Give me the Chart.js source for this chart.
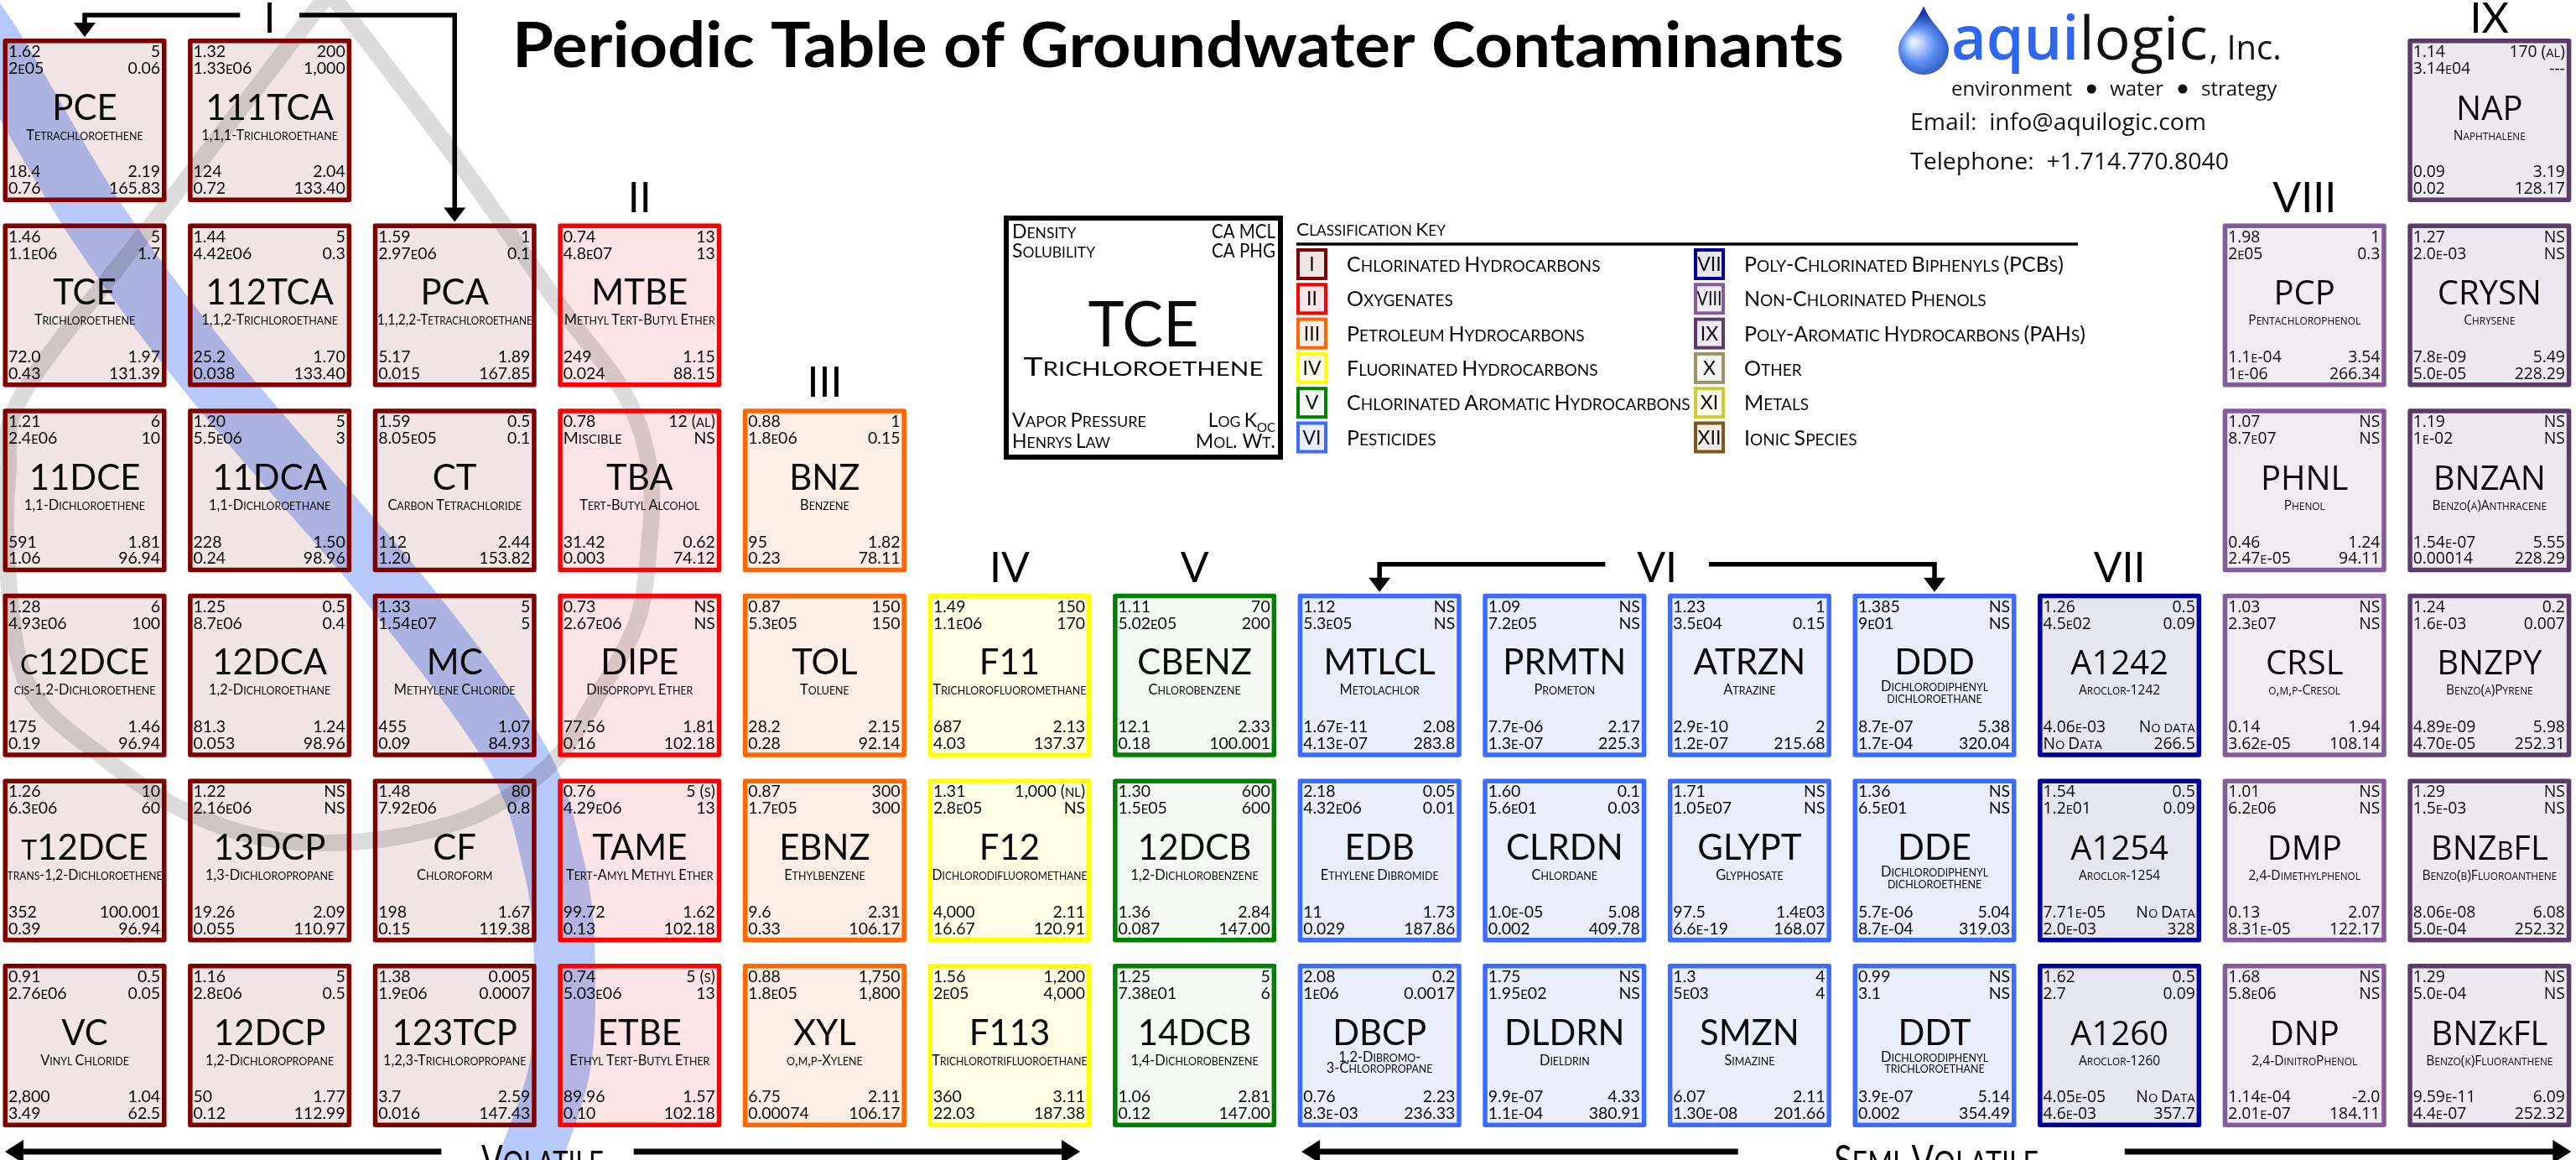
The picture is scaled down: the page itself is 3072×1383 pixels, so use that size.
<!DOCTYPE html>
<html>
<head>
<meta charset="utf-8">
<title>Periodic Table of Groundwater Contaminants</title>
<script src="https://cdn.jsdelivr.net/npm/chart.js@4.4.1/dist/chart.umd.min.js"></script>
<style>
  html, body { margin: 0; padding: 0; background: #fff; }
  #wrap { position: relative; width: 3072px; height: 1383px; }
</style>
</head>
<body>
<div id="wrap"><canvas id="chart"></canvas></div>
<script>
/* ============================================================
   Periodic table of groundwater contaminants
   cells are placed on a column/row grid through Chart.js scales
============================================================ */

// ---- Cell data (one entry per contaminant, column by column) ----
const symbols = ['PCE','TCE','11DCE','c12DCE','t12DCE','VC',
  '111TCA','112TCA','11DCA','12DCA','13DCP','12DCP',
  'PCA','CT','MC','CF','123TCP',
  'MTBE','TBA','DIPE','TAME','ETBE',
  'BNZ','TOL','EBNZ','XYL',
  'F11','F12','F113',
  'CBENZ','12DCB','14DCB',
  'MTLCL','EDB','DBCP','PRMTN','CLRDN','DLDRN','ATRZN','GLYPT','SMZN','DDD','DDE','DDT',
  'A1242','A1254','A1260',
  'PCP','PHNL','CRSL','DMP','DNP',
  'NAP','CRYSN','BNZAN','BNZPY','BNZbFL','BNZkFL'];

const names = ['Tetrachloroethene','Trichloroethene','1,1-Dichloroethene','cis-1,2-Dichloroethene','trans-1,2-Dichloroethene','Vinyl Chloride',
  '1,1,1-Trichloroethane','1,1,2-Trichloroethane','1,1-Dichloroethane','1,2-Dichloroethane','1,3-Dichloropropane','1,2-Dichloropropane',
  '1,1,2,2-Tetrachloroethane','Carbon Tetrachloride','Methylene Chloride','Chloroform','1,2,3-Trichloropropane',
  'Methyl Tert-Butyl Ether','Tert-Butyl Alcohol','Diisopropyl Ether','Tert-Amyl Methyl Ether','Ethyl Tert-Butyl Ether',
  'Benzene','Toluene','Ethylbenzene','o,m,p-Xylene',
  'Trichlorofluoromethane','Dichlorodifluoromethane','Trichlorotrifluoroethane',
  'Chlorobenzene','1,2-Dichlorobenzene','1,4-Dichlorobenzene',
  'Metolachlor','Ethylene Dibromide','1,2-Dibromo-|3-Chloropropane','Prometon','Chlordane','Dieldrin',
  'Atrazine','Glyphosate','Simazine','Dichlorodiphenyl|dichloroethane','Dichlorodiphenyl|dichloroethene','Dichlorodiphenyl|trichloroethane',
  'Aroclor-1242','Aroclor-1254','Aroclor-1260',
  'Pentachlorophenol','Phenol','o,m,p-Cresol','2,4-Dimethylphenol','2,4-DinitroPhenol',
  'Naphthalene','Chrysene','Benzo(a)Anthracene','Benzo(a)Pyrene','Benzo(b)Fluoroanthene','Benzo(k)Fluoranthene'];

const density = ['1.62','1.46','1.21','1.28','1.26','0.91','1.32','1.44','1.20','1.25','1.22','1.16',
  '1.59','1.59','1.33','1.48','1.38','0.74','0.78','0.73','0.76','0.74','0.88','0.87','0.87','0.88',
  '1.49','1.31','1.56','1.11','1.30','1.25','1.12','2.18','2.08','1.09','1.60','1.75','1.23','1.71','1.3',
  '1.385','1.36','0.99','1.26','1.54','1.62','1.98','1.07','1.03','1.01','1.68','1.14','1.27','1.19','1.24','1.29','1.29'];

const solubility = ['2e05','1.1e06','2.4e06','4.93e06','6.3e06','2.76e06','1.33e06','4.42e06','5.5e06','8.7e06','2.16e06','2.8e06',
  '2.97e06','8.05e05','1.54e07','7.92e06','1.9e06','4.8e07','Miscible','2.67e06','4.29e06','5.03e06','1.8e06','5.3e05','1.7e05','1.8e05',
  '1.1e06','2.8e05','2e05','5.02e05','1.5e05','7.38e01','5.3e05','4.32e06','1e06','7.2e05','5.6e01','1.95e02','3.5e04','1.05e07','5e03',
  '9e01','6.5e01','3.1','4.5e02','1.2e01','2.7','2e05','8.7e07','2.3e07','6.2e06','5.8e06','3.14e04','2.0e-03','1e-02','1.6e-03','1.5e-03','5.0e-04'];

const caMcl = ['5','5','6','6','10','0.5','200','5','5','0.5','NS','5','1','0.5','5','80','0.005',
  '13','12 (al)','NS','5 (s)','5 (s)','1','150','300','1,750','150','1,000 (nl)','1,200','70','600','5',
  'NS','0.05','0.2','NS','0.1','NS','1','NS','4','NS','NS','NS','0.5','0.5','0.5',
  '1','NS','NS','NS','NS','170 (al)','NS','NS','0.2','NS','NS'];

const caPhg = ['0.06','1.7','10','100','60','0.05','1,000','0.3','3','0.4','NS','0.5','0.1','0.1','5','0.8','0.0007',
  '13','NS','NS','13','13','0.15','150','300','1,800','170','NS','4,000','200','600','6',
  'NS','0.01','0.0017','NS','0.03','NS','0.15','NS','4','NS','NS','NS','0.09','0.09','0.09',
  '0.3','NS','NS','NS','NS','---','NS','NS','0.007','NS','NS'];

const vaporPressure = ['18.4','72.0','591','175','352','2,800','124','25.2','228','81.3','19.26','50',
  '5.17','112','455','198','3.7','249','31.42','77.56','99.72','89.96','95','28.2','9.6','6.75',
  '687','4,000','360','12.1','1.36','1.06','1.67e-11','11','0.76','7.7e-06','1.0e-05','9.9e-07','2.9e-10','97.5','6.07',
  '8.7e-07','5.7e-06','3.9e-07','4.06e-03','7.71e-05','4.05e-05','1.1e-04','0.46','0.14','0.13','1.14e-04',
  '0.09','7.8e-09','1.54e-07','4.89e-09','8.06e-08','9.59e-11'];

const henrys = ['0.76','0.43','1.06','0.19','0.39','3.49','0.72','0.038','0.24','0.053','0.055','0.12',
  '0.015','1.20','0.09','0.15','0.016','0.024','0.003','0.16','0.13','0.10','0.23','0.28','0.33','0.00074',
  '4.03','16.67','22.03','0.18','0.087','0.12','4.13e-07','0.029','8.3e-03','1.3e-07','0.002','1.1e-04','1.2e-07','6.6e-19','1.30e-08',
  '1.7e-04','8.7e-04','0.002','No Data','2.0e-03','4.6e-03','1e-06','2.47e-05','3.62e-05','8.31e-05','2.01e-07',
  '0.02','5.0e-05','0.00014','4.70e-05','5.0e-04','4.4e-07'];

const logKoc = ['2.19','1.97','1.81','1.46','100.001','1.04','2.04','1.70','1.50','1.24','2.09','1.77',
  '1.89','2.44','1.07','1.67','2.59','1.15','0.62','1.81','1.62','1.57','1.82','2.15','2.31','2.11',
  '2.13','2.11','3.11','2.33','2.84','2.81','2.08','1.73','2.23','2.17','5.08','4.33','2','1.4e03','2.11',
  '5.38','5.04','5.14','No data','No Data','No Data','3.54','1.24','1.94','2.07','-2.0',
  '3.19','5.49','5.55','5.98','6.08','6.09'];

const molWt = ['165.83','131.39','96.94','96.94','96.94','62.5','133.40','133.40','98.96','98.96','110.97','112.99',
  '167.85','153.82','84.93','119.38','147.43','88.15','74.12','102.18','102.18','102.18','78.11','92.14','106.17','106.17',
  '137.37','120.91','187.38','100.001','147.00','147.00','283.8','187.86','236.33','225.3','409.78','380.91','215.68','168.07','201.66',
  '320.04','319.03','354.49','266.5','328','357.7','266.34','94.11','108.14','122.17','184.11',
  '128.17','228.29','228.29','252.31','252.32','252.32'];

// classification index (0 = I ... 11 = XII)
const classes = [0,0,0,0,0,0, 0,0,0,0,0,0, 0,0,0,0,0,
  1,1,1,1,1, 2,2,2,2, 3,3,3, 4,4,4,
  5,5,5,5,5,5,5,5,5,5,5,5, 6,6,6, 7,7,7,7,7, 8,8,8,8,8,8];

const gridCol = [0,0,0,0,0,0, 1,1,1,1,1,1, 2,2,2,2,2, 3,3,3,3,3, 4,4,4,4, 5,5,5, 6,6,6,
  7,7,7, 8,8,8, 9,9,9, 10,10,10, 11,11,11, 12,12,12,12,12, 13,13,13,13,13,13];
const gridRow = [0,1,2,3,4,5, 0,1,2,3,4,5, 1,2,3,4,5, 1,2,3,4,5, 2,3,4,5, 3,4,5, 3,4,5,
  3,4,5, 3,4,5, 3,4,5, 3,4,5, 3,4,5, 1,2,3,4,5, 0,1,2,3,4,5];

// ---- Classification key ----
const classNumerals = ['I','II','III','IV','V','VI','VII','VIII','IX','X','XI','XII'];
const classLabels = ['Chlorinated Hydrocarbons','Oxygenates','Petroleum Hydrocarbons','Fluorinated Hydrocarbons',
  'Chlorinated Aromatic Hydrocarbons','Pesticides','Poly-Chlorinated Biphenyls (PCBs)','Non-Chlorinated Phenols',
  'Poly-Aromatic Hydrocarbons (PAHs)','Other','Metals','Ionic Species'];

// group headers above the columns
const headerLabels = ['I','II','III','IV','V','VI','VII','VIII','IX'];
const headerCols = [1, 3, 4, 5, 6, 8.5, 11, 12, 13];
const headerRows = [0, 1, 2, 3, 3, 3, 3, 1, 0];

// decorative ribbons (grid units)
const bandPath = [[-0.378,-0.345],[-0.084,0],[0.514,1.002],[1.181,1.890],[2.137,3.001],[2.772,3.871],
  [2.976,4.461],[3.035,4.941],[3.012,5.548],[2.84,6.074],[2.704,6.364]];
const loopPath = [[1.979,-0.526],[1.734,-0.209],[0.891,0.893],[0.12,1.899],[0.029,2.33],[0.029,2.919],
  [0.143,3.509],[0.555,3.894],[0.968,4.166],[1.435,4.325],[1.951,4.338],[2.432,4.243],[2.745,4.093],
  [3.008,3.871],[3.23,3.527],[3.429,3.146],[3.493,2.738],[3.497,2.33],[3.361,1.922],[2.985,1.41],
  [2.455,0.653],[1.797,-0.209],[1.548,-0.526]];

// ---- Styling ----
const CELL = 0.884;           // cell size as share of the grid pitch
const PITCH = 220.6;          // px per grid step, sets the scale extents
const classBorder = ['#7f0000','#ff0000','#ff6600','#ffff00','#008000','#3d6bff','#000099','#855b9c','#5a3c6b','#9a9468','#cfcc3a','#7a5820'];
const classFill = ['#f1e5e5','#fde5e5','#fdefe5','#fffee6','#f5faf5','#e9effd','#e6e6f1','#f1ecf2','#eee9f0','#f4f3ee','#fcfce8','#f4eee6'];
const LATO = 'Lato, sans-serif';
const OPEN = '"Open Sans", sans-serif';

// small caps: lower-case letters become reduced capitals
function scRuns(str, plain) {
  if (plain) return [{ t: str, small: false }];
  const out = [];
  let cur = '', curSmall = null;
  for (const ch of str) {
    const isLower = ch >= 'a' && ch <= 'z';
    const s = ch === ' ' ? (curSmall === null ? false : curSmall) : isLower;
    if (curSmall !== null && s !== curSmall) { out.push({ t: cur, small: curSmall }); cur = ''; }
    cur += isLower ? ch.toUpperCase() : ch;
    curSmall = s;
  }
  if (cur) out.push({ t: cur, small: curSmall });
  return out;
}

function drawSC(ctx, str, x, y, o) {
  const size = o.size, fam = o.family || LATO, wt = o.weight || 'normal', ratio = o.ratio || 0.76;
  const runs = scRuns(str, o.plain);
  let w = 0;
  runs.forEach(r => {
    ctx.font = `${wt} ${r.small ? size * ratio : size}px ${fam}`;
    r.w = ctx.measureText(r.t).width;
    w += r.w;
  });
  let sx = 1;
  if (o.width) sx = o.width / w;
  else if (o.maxWidth && w > o.maxWidth) sx = o.maxWidth / w;
  const W = w * sx;
  const x0 = o.align === 'right' ? x - W : o.align === 'center' ? x - W / 2 : x;
  ctx.save();
  ctx.translate(x0, y);
  ctx.scale(sx, 1);
  ctx.textAlign = 'left';
  ctx.textBaseline = 'alphabetic';
  ctx.fillStyle = o.color || '#0a0a0a';
  let cx = 0;
  runs.forEach(r => {
    ctx.font = `${wt} ${r.small ? size * ratio : size}px ${fam}`;
    ctx.fillText(r.t, cx, 0);
    cx += r.w;
  });
  ctx.restore();
  return W;
}

function smoothPath(ctx, pts) {
  ctx.beginPath();
  ctx.moveTo(pts[0][0], pts[0][1]);
  for (let i = 0; i < pts.length - 1; i++) {
    const p0 = pts[Math.max(i - 1, 0)], p1 = pts[i], p2 = pts[i + 1], p3 = pts[Math.min(i + 2, pts.length - 1)];
    ctx.bezierCurveTo(p1[0] + (p2[0] - p0[0]) / 6, p1[1] + (p2[1] - p0[1]) / 6,
      p2[0] - (p3[0] - p1[0]) / 6, p2[1] - (p3[1] - p1[1]) / 6, p2[0], p2[1]);
  }
}

function drawDrop(ctx, cx, tipY, cy, r) {
  ctx.beginPath();
  ctx.moveTo(cx, tipY);
  ctx.bezierCurveTo(cx + r * 0.3, tipY + (cy - tipY) * 0.45, cx + r, cy - r * 0.6, cx + r, cy);
  ctx.arc(cx, cy, r, 0, Math.PI, false);
  ctx.bezierCurveTo(cx - r, cy - r * 0.6, cx - r * 0.3, tipY + (cy - tipY) * 0.45, cx, tipY);
  ctx.closePath();
  const g = ctx.createRadialGradient(cx - r * 0.4, cy - r * 0.3, r * 0.1, cx, cy, r * 1.4);
  g.addColorStop(0, '#e4eeff');
  g.addColorStop(0.45, '#5d8ff2');
  g.addColorStop(1, '#1437a8');
  ctx.fillStyle = g;
  ctx.fill();
}

// first occupied row of a column (target of the header arrows)
function topRowOf(col) {
  return Math.min(...gridRow.filter((r, i) => gridCol[i] === col));
}

const tablePlugin = {
  id: 'periodicTable',
  beforeDraw(chart) {
    const c = chart.ctx;
    c.save();
    c.fillStyle = '#ffffff';
    c.fillRect(0, 0, chart.width, chart.height);
    c.restore();
  },
  afterDatasetsDraw(chart) {
    const ctx = chart.ctx;
    const xs = chart.scales.x, ys = chart.scales.y;
    const px = u => xs.getPixelForValue(u);
    const py = v => ys.getPixelForValue(v);
    const unit = px(1) - px(0);

    const cells = symbols.map((s, i) => {
      const x0 = px(gridCol[i]), x1 = px(gridCol[i] + CELL);
      const y0 = py(gridRow[i]), y1 = py(gridRow[i] + CELL);
      return { i, x0, y0, w: x1 - x0, h: y1 - y0, cls: classes[i] };
    });

    ctx.save();

    // cell backgrounds
    cells.forEach(c => {
      ctx.fillStyle = classFill[c.cls];
      ctx.fillRect(c.x0, c.y0, c.w, c.h);
    });

    // ribbons behind the text
    ctx.globalCompositeOperation = 'multiply';
    ctx.lineJoin = 'round';
    ctx.lineCap = 'butt';
    ctx.strokeStyle = '#b7c8fa';
    ctx.lineWidth = 0.33 * unit;
    smoothPath(ctx, bandPath.map(p => [px(p[0]), py(p[1])]));
    ctx.stroke();
    ctx.strokeStyle = '#dcdcdc';
    ctx.lineWidth = 0.09 * unit;
    smoothPath(ctx, loopPath.map(p => [px(p[0]), py(p[1])]));
    ctx.stroke();
    ctx.globalCompositeOperation = 'source-over';

    // cell borders
    cells.forEach(c => {
      ctx.strokeStyle = classBorder[c.cls];
      ctx.lineWidth = 5.5;
      ctx.strokeRect(c.x0 + 2.75, c.y0 + 2.75, c.w - 5.5, c.h - 5.5);
    });

    // cell texts
    cells.forEach(c => {
      const i = c.i;
      const wide = c.cls >= 6;
      const fam = wide ? OPEN : LATO;
      const ns = c.h * (wide ? 0.099 : 0.1);
      const L = c.x0 + c.w * 0.033, R = c.x0 + c.w * 0.962;
      const lines = [[density[i], caMcl[i], 0.113], [solubility[i], caPhg[i], 0.215],
        [vaporPressure[i], logKoc[i], 0.848], [henrys[i], molWt[i], 0.95]];
      lines.forEach(r => {
        drawSC(ctx, r[0], L, c.y0 + c.h * r[2], { size: ns, family: fam, maxWidth: c.w * 0.55 });
        drawSC(ctx, r[1], R, c.y0 + c.h * r[2], { size: ns, family: fam, align: 'right', maxWidth: c.w * 0.5 });
      });
      drawSC(ctx, symbols[i], c.x0 + c.w / 2, c.y0 + c.h * 0.495,
        { size: c.h * (wide ? 0.205 : 0.215), family: fam, align: 'center', maxWidth: c.w - 14 });
      const nm = names[i].split('|');
      const nb = nm.length === 1 ? [0.618] : [0.598, 0.668];
      nm.forEach((t, k) => drawSC(ctx, t, c.x0 + c.w / 2, c.y0 + c.h * nb[k],
        { size: c.h * (wide ? 0.08 : 0.084), family: fam, align: 'center', maxWidth: c.w - 10 }));
    });

    // group headers
    ctx.strokeStyle = '#000';
    ctx.fillStyle = '#000';
    ctx.lineWidth = 5.5;
    ctx.lineJoin = 'miter';
    const hv = k => headerRows[k] === 0 ? -0.113 : headerRows[k] - 0.145;
    headerLabels.forEach((lab, k) => {
      const cx = px(headerCols[k] + CELL / 2);
      drawSC(ctx, lab, cx, py(hv(k)) + 18, { size: 50, align: 'center', color: '#000' });
    });
    function bracket(k, gap, col) {
      const cu = headerCols[k] + CELL / 2;
      const from = col < cu ? cu - gap : cu + gap;
      const xTo = px(col + CELL / 2), yl = py(hv(k)) - 3, yt = py(topRowOf(col)) - 2;
      ctx.beginPath();
      ctx.moveTo(px(from), yl);
      ctx.lineTo(xTo, yl);
      ctx.lineTo(xTo, yt - 15);
      ctx.stroke();
      ctx.beginPath();
      ctx.moveTo(xTo - 13, yt - 17);
      ctx.lineTo(xTo + 13, yt - 17);
      ctx.lineTo(xTo, yt);
      ctx.closePath();
      ctx.fill();
    }
    bracket(0, 0.16, 0);
    bracket(0, 0.16, 2);
    bracket(5, 0.28, 7);
    bracket(5, 0.28, 10);

    // volatility arrows along the bottom
    function hArrow(u1, u2, v, headLeft, headRight) {
      const y = py(v);
      const a = px(u1), b = px(u2);
      ctx.lineWidth = 7;
      ctx.beginPath();
      ctx.moveTo(headLeft ? a + 18 : a, y);
      ctx.lineTo(headRight ? b - 18 : b, y);
      ctx.stroke();
      if (headLeft) {
        ctx.beginPath(); ctx.moveTo(a + 22, y - 14); ctx.lineTo(a + 22, y + 14); ctx.lineTo(a, y); ctx.closePath(); ctx.fill();
      }
      if (headRight) {
        ctx.beginPath(); ctx.moveTo(b - 22, y - 14); ctx.lineTo(b - 22, y + 14); ctx.lineTo(b, y); ctx.closePath(); ctx.fill();
      }
    }
    const vBottom = 6.015;
    hArrow(0.011, 2.37, vBottom, true, false);
    hArrow(3.41, 5.823, vBottom, false, true);
    hArrow(7.02, 9.38, vBottom, true, false);
    hArrow(11.47, 13.884, vBottom, false, true);
    drawSC(ctx, 'Volatile', px(2.917), py(vBottom) + 28, { size: 50, ratio: 0.82, align: 'center', width: 146 });
    drawSC(ctx, 'Semi-Volatile', px(10.452), py(vBottom) + 28, { size: 50, ratio: 0.82, align: 'center', width: 244 });

    // title
    drawSC(ctx, 'Periodic Table of Groundwater Contaminants', 611, 80,
      { size: 74, weight: 'bold', plain: true, width: 1588, color: '#000' });

    // logo and contact
    drawDrop(ctx, 2294, 7, 59, 30);
    const wAqui = drawSC(ctx, 'aqui', 2327, 71, { size: 72, family: OPEN, weight: '600', plain: true, color: '#2f66ef' });
    const wLogic = drawSC(ctx, 'logic', 2327 + wAqui, 71, { size: 72, family: OPEN, plain: true, color: '#111' });
    drawSC(ctx, ', Inc.', 2329 + wAqui + wLogic, 71, { size: 40, family: OPEN, plain: true, color: '#111' });
    let ex = 2327;
    ['environment', 'water', 'strategy'].forEach((wd, k) => {
      ex += drawSC(ctx, wd, ex, 114, { size: 24, family: OPEN, plain: true, color: '#111' });
      if (k < 2) {
        ctx.beginPath();
        ctx.arc(ex + 23, 106, 5.5, 0, Math.PI * 2);
        ctx.fillStyle = '#111';
        ctx.fill();
        ex += 45;
      }
    });
    drawSC(ctx, 'Email:  info@aquilogic.com', 2278, 155, { size: 27, family: OPEN, plain: true, width: 353, color: '#111' });
    drawSC(ctx, 'Telephone:  +1.714.770.8040', 2278, 202, { size: 27, family: OPEN, plain: true, width: 380, color: '#111' });

    // sample cell / reading key
    const kx0 = 1197, ky0 = 257, kx1 = 1530, ky1 = 548, kc = (kx0 + kx1) / 2;
    ctx.fillStyle = '#fff';
    ctx.fillRect(kx0, ky0, kx1 - kx0, ky1 - ky0);
    ctx.strokeStyle = '#000';
    ctx.lineWidth = 6;
    ctx.strokeRect(kx0 + 3, ky0 + 3, kx1 - kx0 - 6, ky1 - ky0 - 6);
    drawSC(ctx, 'Density', kx0 + 10, ky0 + 27, { size: 23 });
    drawSC(ctx, 'Solubility', kx0 + 10, ky0 + 50, { size: 23 });
    drawSC(ctx, 'CA MCL', kx1 - 9, ky0 + 27, { size: 23, align: 'right', width: 76 });
    drawSC(ctx, 'CA PHG', kx1 - 9, ky0 + 50, { size: 23, align: 'right', width: 76 });
    drawSC(ctx, 'TCE', kc, ky0 + 156, { size: 76, align: 'center', width: 132 });
    drawSC(ctx, 'Trichloroethene', kc, ky0 + 191, { size: 31, align: 'center', width: 286 });
    drawSC(ctx, 'Vapor Pressure', kx0 + 10, ky0 + 252, { size: 23, width: 160 });
    drawSC(ctx, 'Henrys Law', kx0 + 10, ky0 + 277, { size: 23 });
    const wOc = drawSC(ctx, 'OC', kx1 - 9, ky0 + 258, { size: 15, align: 'right' });
    drawSC(ctx, 'Log K', kx1 - 9 - wOc, ky0 + 252, { size: 23, align: 'right' });
    drawSC(ctx, 'Mol. Wt.', kx1 - 9, ky0 + 277, { size: 23, align: 'right' });

    // classification key
    drawSC(ctx, 'Classification Key', 1546, 281, { size: 22, width: 178 });
    ctx.strokeStyle = '#000';
    ctx.lineWidth = 3.5;
    ctx.beginPath();
    ctx.moveTo(1546, 291);
    ctx.lineTo(2478, 291);
    ctx.stroke();
    classLabels.forEach((lab, k) => {
      const colX = k < 6 ? 1546 : 2020;
      const yc = 315 + 41.3 * (k % 6);
      ctx.fillStyle = classFill[k];
      ctx.fillRect(colX, yc - 19, 37, 38);
      ctx.strokeStyle = classBorder[k];
      ctx.lineWidth = 4;
      ctx.strokeRect(colX + 2, yc - 17, 33, 34);
      drawSC(ctx, classNumerals[k], colX + 18.5, yc + 8, { size: 23, align: 'center', maxWidth: 30 });
      drawSC(ctx, lab, colX + 60, yc + 9, { size: 25 });
    });

    ctx.restore();
  }
};

new Chart(document.getElementById('chart'), {
  type: 'scatter',
  data: {
    datasets: [{
      data: symbols.map((s, i) => ({ x: gridCol[i] + CELL / 2, y: gridRow[i] + CELL / 2 })),
      pointRadius: 0,
      pointHoverRadius: 0
    }]
  },
  options: {
    responsive: true,
    maintainAspectRatio: false,
    animation: false,
    events: [],
    layout: { padding: 0 },
    plugins: { legend: { display: false }, tooltip: { enabled: false } },
    scales: {
      x: { type: 'linear', min: -3.5 / PITCH, max: (3072 - 3.5) / PITCH, display: false },
      y: { type: 'linear', min: -46 / PITCH, max: (1383 - 46) / PITCH, reverse: true, display: false }
    }
  },
  plugins: [tablePlugin]
});
</script>
</body>
</html>
